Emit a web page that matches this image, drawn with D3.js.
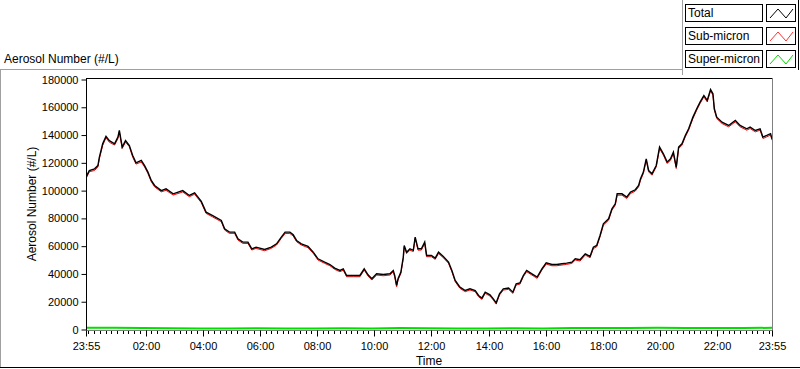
<!DOCTYPE html>
<html>
<head>
<meta charset="utf-8">
<script src="https://cdn.jsdelivr.net/npm/d3@7"></script>
<style>
    body { margin: 0; background: #fff; }
    svg { display: block; font-family: "Liberation Sans", Arial, sans-serif; }
</style>
</head>
<body>
<div id="chart"></div>
<script>
// minutes after the 23:55 start of the record
const minutesFromStart = [
    0, 7, 18, 25, 28, 35, 42, 49, 60, 67,
    70, 76, 83, 91, 98, 105, 116, 123, 130, 137,
    144, 158, 168, 183, 203, 217, 228, 242, 252, 266,
    284, 291, 301, 312, 319, 329, 340, 348, 357, 375,
    389, 400, 410, 418, 428, 435, 442, 452, 466, 477,
    487, 501, 512, 522, 533, 540, 547, 561, 575, 584,
    592, 600, 610, 624, 638, 645, 648, 652, 655, 661,
    666, 668, 673, 680, 687, 691, 697, 704, 711, 715,
    725, 733, 740, 750, 761, 768, 775, 785, 796, 806,
    817, 824, 831, 838, 848, 855, 861, 868, 876, 887,
    896, 903, 911, 918, 925, 936, 947, 957, 966, 978,
    988, 999, 1009, 1020, 1027, 1037, 1048, 1058, 1065, 1072,
    1079, 1086, 1097, 1104, 1111, 1115, 1125, 1135, 1143, 1153,
    1160, 1164, 1170, 1176, 1181, 1188, 1197, 1204, 1212, 1220,
    1227, 1233, 1239, 1244, 1251, 1258, 1265, 1274, 1282, 1289,
    1297, 1304, 1311, 1316, 1319, 1324, 1335, 1349, 1363, 1373,
    1387, 1394, 1405, 1415, 1421, 1429, 1437, 1440
];

const totalCounts = [
    109700, 114500, 115700, 118000, 124000, 133700, 139000, 136000, 133700, 138500,
    143300, 131300, 136000, 132500, 125300, 120000, 121700, 118000, 113300, 107300,
    103700, 100000, 101300, 97700, 100000, 96500, 98400, 92200, 84500, 82000,
    78500, 72500, 70100, 70100, 65300, 62900, 62900, 58100, 59300, 57600,
    59300, 61700, 66500, 70100, 70100, 68200, 64100, 61700, 59800, 55700,
    50900, 48500, 46800, 44200, 42500, 43600, 38900, 38900, 38900, 43700,
    39400, 36500, 40100, 39600, 40100, 42500, 38900, 31700, 36500, 41300,
    52100, 60500, 55700, 58100, 57000, 66500, 58100, 58100, 62900, 53300,
    53300, 51400, 55700, 52600, 48500, 42500, 35300, 30500, 28100, 29300,
    28100, 24500, 22600, 26900, 25000, 22100, 19200, 25700, 29300, 29800,
    26900, 32900, 33600, 38900, 42500, 40100, 37700, 43700, 48000, 46800,
    46800, 47300, 47800, 48500, 50900, 50200, 54500, 52600, 59300, 60500,
    67700, 76100, 79700, 86900, 90500, 97700, 97700, 95300, 98900, 100600,
    103700, 108500, 113300, 122900, 114500, 112100, 118100, 131300, 126500, 120500,
    122900, 127700, 116900, 131300, 133700, 139700, 144500, 152900, 158900, 163700,
    168500, 164900, 172800, 169700, 158900, 152900, 149300, 146900, 150500, 146900,
    144500, 145700, 143300, 144500, 138500, 139700, 141000, 137300
];

const subMicronCounts = [
    108600, 113600, 114500, 117100, 122900, 132500, 138100, 134800, 132800, 137400,
    142200, 130400, 134900, 131600, 124100, 119100, 120600, 117000, 112300, 106400,
    102700, 99100, 100200, 96800, 99000, 95600, 97400, 91300, 83600, 81000,
    77600, 71600, 69200, 69200, 64400, 62000, 61900, 57200, 58400, 56700,
    58400, 60800, 65600, 69100, 69100, 67300, 63200, 60800, 58900, 54800,
    50000, 47600, 45900, 43300, 41600, 42700, 38000, 38000, 38000, 42800,
    38500, 35600, 39200, 38700, 39200, 41600, 38000, 30800, 35600, 40400,
    51100, 59500, 54700, 57100, 56100, 65500, 57100, 57200, 61900, 52400,
    52400, 50500, 54700, 51700, 47600, 41600, 34400, 29600, 27200, 28400,
    27200, 23600, 21700, 26000, 24100, 21200, 18300, 24800, 28400, 28900,
    26000, 32000, 32700, 38000, 41600, 39200, 36800, 42800, 47100, 45900,
    45900, 46400, 46900, 47600, 50000, 49300, 53600, 51700, 58300, 59500,
    66700, 75100, 78700, 85900, 89500, 96700, 96700, 94300, 97900, 99600,
    102700, 107500, 112300, 121900, 113500, 111100, 117100, 130300, 125500, 119500,
    121900, 126700, 115900, 130300, 132700, 138700, 143500, 151900, 157900, 162700,
    167500, 163900, 171800, 168700, 157900, 151900, 148300, 145900, 149500, 145900,
    143500, 144700, 142300, 143500, 137500, 138700, 140000, 136300
];

// super-micron is read on an hourly grid, it stays just above zero
const superMinutes = [0, 60, 120, 180, 240, 300, 360, 420, 480, 540, 600, 660, 720,
    780, 840, 900, 960, 1020, 1080, 1140, 1200, 1260, 1320, 1380, 1440];
const superMicronCounts = [1300, 1200, 1100, 900, 800, 800, 900, 700, 800, 900, 800, 1000, 900,
    700, 800, 900, 800, 1000, 1100, 1000, 1200, 1100, 1000, 1100, 1200];

const yTickValues = [0, 20000, 40000, 60000, 80000, 100000, 120000, 140000, 160000, 180000];
const legendLabels = ["Total", "Sub-micron", "Super-micron"];
const legendColors = ["#000000", "#ff3030", "#00dd00"];

const width = 800;
const height = 369;
const plot = { left: 86, right: 772, top: 78, bottom: 330 };

const svg = d3.select("#chart")
    .append("svg")
    .attr("width", width)
    .attr("height", height)
    .attr("viewBox", [0, 0, width, height]);

const start = new Date(2000, 0, 1, 23, 55);
const end = new Date(2000, 0, 2, 23, 55);
const toDate = m => new Date(start.getTime() + m * 60000);

const xScale = d3.scaleTime()
    .domain([start, end])
    .range([plot.left, plot.right]);

const yScale = d3.scaleLinear()
    .domain([0, 180000])
    .range([329.5, 79.5]);

// outer frame of the graph panel
svg.append("line").attr("x1", 0).attr("y1", 69.5).attr("x2", 682).attr("y2", 69.5)
    .attr("stroke", "#a0a0a0");
svg.append("line").attr("x1", 0.5).attr("y1", 69).attr("x2", 0.5).attr("y2", 368)
    .attr("stroke", "#a0a0a0");
svg.append("line").attr("x1", 0).attr("y1", 367.5).attr("x2", 800).attr("y2", 367.5)
    .attr("stroke", "#000");
svg.append("line").attr("x1", 682.5).attr("y1", 0).attr("x2", 682.5).attr("y2", 75)
    .attr("stroke", "#a0a0a0");
svg.append("line").attr("x1", 798.5).attr("y1", 0).attr("x2", 798.5).attr("y2", 70)
    .attr("stroke", "#000");

// title
svg.append("text")
    .attr("x", 4)
    .attr("y", 63)
    .attr("font-size", "12px")
    .attr("fill", "#000")
    .text("Aerosol Number (#/L)");

// plot frame
svg.append("line").attr("x1", plot.left).attr("y1", 78.5).attr("x2", plot.right).attr("y2", 78.5)
    .attr("stroke", "#000");
svg.append("line").attr("x1", plot.right + 0.5).attr("y1", 78).attr("x2", plot.right + 0.5).attr("y2", 331)
    .attr("stroke", "#808080");
svg.append("line").attr("x1", plot.left).attr("y1", 330.5).attr("x2", plot.right + 1).attr("y2", 330.5)
    .attr("stroke", "#808080");

// y axis
const yAxis = d3.axisLeft(yScale)
    .tickValues(yTickValues)
    .tickSize(5)
    .tickSizeOuter(0)
    .tickPadding(3)
    .tickFormat(d3.format("d"));

const yG = svg.append("g")
    .attr("transform", `translate(${plot.left + 0.5}, 0)`)
    .call(yAxis);
yG.select(".domain").remove();
yG.selectAll("line").attr("stroke", "#000");
yG.selectAll("text").attr("font-size", "11px").attr("fill", "#000")
    .attr("font-family", "Liberation Sans, Arial, sans-serif");
svg.append("line").attr("x1", plot.left + 0.5).attr("y1", 78).attr("x2", plot.left + 0.5).attr("y2", 330)
    .attr("stroke", "#000");

svg.append("text")
    .attr("transform", `translate(36, ${(plot.top + plot.bottom) / 2}) rotate(-90)`)
    .attr("text-anchor", "middle")
    .attr("font-size", "12px")
    .attr("fill", "#000")
    .text("Aerosol Number (#/L)");

// x axis: minor ticks every 12 minutes, majors every 2 hours plus the ends
const minorTicks = d3.timeMinute.every(12).range(start, end);
svg.append("g")
    .selectAll("line")
    .data(minorTicks)
    .join("line")
    .attr("x1", d => Math.round(xScale(d)) + 0.5)
    .attr("x2", d => Math.round(xScale(d)) + 0.5)
    .attr("y1", 331)
    .attr("y2", 334)
    .attr("stroke", "#000");

const majorTicks = [start].concat(d3.timeHour.every(2).range(new Date(2000, 0, 2, 2, 0), new Date(2000, 0, 2, 23, 0)), [end]);
const xAxis = d3.axisBottom(xScale)
    .tickValues(majorTicks)
    .tickSize(6)
    .tickSizeOuter(0)
    .tickPadding(6)
    .tickFormat(d3.timeFormat("%H:%M"));

const xG = svg.append("g")
    .attr("transform", `translate(0, ${plot.bottom + 0.5})`)
    .call(xAxis);
xG.select(".domain").remove();
xG.selectAll(".tick").attr("transform", d => `translate(${Math.round(xScale(d)) + 0.5}, 0)`);
xG.selectAll("line").attr("stroke", "#000");
xG.selectAll("text").attr("font-size", "11px").attr("fill", "#000")
    .attr("font-family", "Liberation Sans, Arial, sans-serif");

svg.append("text")
    .attr("x", (plot.left + plot.right) / 2)
    .attr("y", 365)
    .attr("text-anchor", "middle")
    .attr("font-size", "12px")
    .attr("fill", "#000")
    .text("Time");

// data lines
svg.append("clipPath").attr("id", "plot-clip")
    .append("rect")
    .attr("x", plot.left + 1).attr("y", plot.top + 1)
    .attr("width", plot.right - plot.left - 1)
    .attr("height", plot.bottom - plot.top - 1);

const lines = svg.append("g").attr("clip-path", "url(#plot-clip)");
const line = d3.line()
    .x(d => xScale(toDate(d[0])))
    .y(d => yScale(d[1]));

lines.append("path")
    .datum(d3.zip(superMinutes, superMicronCounts))
    .attr("fill", "none")
    .attr("stroke", "#00e000")
    .attr("stroke-width", 2)
    .attr("d", line);

lines.append("path")
    .datum(d3.zip(minutesFromStart, subMicronCounts))
    .attr("fill", "none")
    .attr("stroke", "#ff0000")
    .attr("stroke-width", 1)
    .attr("d", line);

lines.append("path")
    .datum(d3.zip(minutesFromStart, totalCounts))
    .attr("fill", "none")
    .attr("stroke", "#000")
    .attr("stroke-width", 1.4)
    .attr("d", line);

// legend
const legend = svg.append("g").attr("class", "legend");
const rows = legend.selectAll("g.legend-item")
    .data(legendLabels)
    .join("g")
    .attr("class", "legend-item")
    .attr("transform", (d, i) => `translate(685, ${4 + i * 23})`);

rows.append("rect")
    .attr("x", 0.5).attr("y", 0.5)
    .attr("width", 77).attr("height", 17)
    .attr("fill", "#fff")
    .attr("stroke", "#000");

rows.append("text")
    .attr("x", 3)
    .attr("y", 13)
    .attr("font-size", "12px")
    .attr("fill", "#000")
    .text(d => d);

rows.append("rect")
    .attr("x", 81.5).attr("y", 0.5)
    .attr("width", 29).attr("height", 17)
    .attr("fill", "#fff")
    .attr("stroke", "#000");

rows.append("polyline")
    .attr("points", "85,14 93,5 101,14 108,5")
    .attr("fill", "none")
    .attr("stroke", (d, i) => legendColors[i])
    .attr("stroke-width", 1);
</script>
</body>
</html>
